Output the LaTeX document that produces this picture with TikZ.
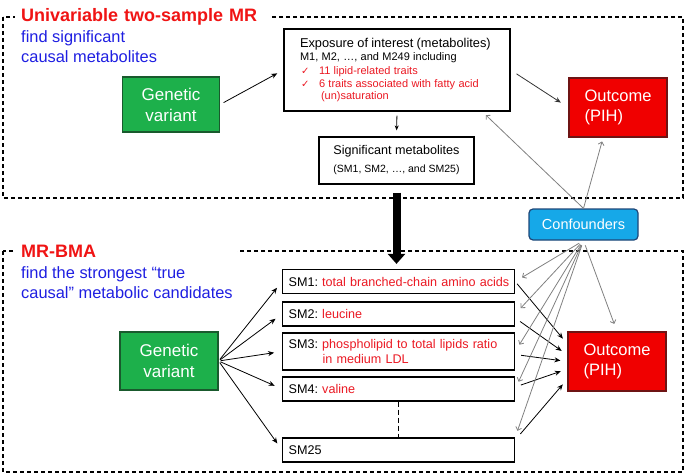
\documentclass[tikz,border=0pt]{standalone}
\usepackage{fontspec}
\setmainfont{Liberation Sans}
\newfontfamily\checkfont{DejaVu Sans}
\usetikzlibrary{arrows.meta,calc}
\definecolor{gvgreen}{RGB}{29,176,75}
\definecolor{gvborder}{RGB}{25,90,45}
\definecolor{pihred}{RGB}{240,0,0}
\definecolor{pihborder}{RGB}{110,20,20}
\definecolor{cfblue}{RGB}{22,168,232}
\definecolor{cfborder}{RGB}{30,70,120}
\definecolor{titlered}{RGB}{240,20,20}
\definecolor{txtred}{RGB}{235,25,35}
\definecolor{txtblue}{RGB}{30,30,225}
\newcommand{\fsz}[2]{\fontsize{#1}{#2}\selectfont}
\newcommand{\tick}{\makebox[19pt][l]{\hspace*{1pt}{\checkfont\fsz{10}{10}✓}}}

\begin{document}
\frenchspacing
\begin{tikzpicture}[x=1pt,y=-1pt,
  panel/.style={line width=1.3pt,dash pattern=on 4pt off 3pt},
  head/.style={fill=white,anchor=west,inner xsep=6pt,align=left,text=titlered,font=\fsz{18}{21}\bfseries},
  note/.style={anchor=west,inner xsep=6pt,align=left,text=txtblue,font=\fsz{16.4}{20}},
  wbox/.style={draw,line width=1.2pt,fill=white},
  gvbox/.style={fill=gvgreen,draw=gvborder,line width=1.2pt,text=white,minimum width=97pt,minimum height=55pt,align=center,font=\fsz{17}{21}},
  pihbox/.style={fill=pihred,draw=pihborder,line width=1.2pt,text=white,minimum width=98pt,minimum height=59pt,align=left,font=\fsz{16.5}{20}},
  cfbox/.style={fill=cfblue,draw=cfborder,line width=1.2pt,rounded corners=4pt,text=white,minimum width=109pt,minimum height=31pt,font=\fsz{14.5}{17}},
  smbox/.style={wbox,anchor=west,minimum height=24pt,text width=220pt,inner xsep=6pt,align=left,font=\fsz{12.6}{15}},
  link/.style={line width=0.8pt,-{Stealth[length=6pt,width=5pt]}},
  conflink/.style={gray,line width=0.8pt,-{Straight Barb[length=3pt,width=6pt]}},
]
\useasboundingbox (0,0) rectangle (685,474);

% the two analysis panels
\draw[panel] (3,17) rectangle (683,198);
\draw[panel] (3,251) rectangle (683,472);
\node[head,text width=243pt] (uvtitle) at (15,17) {Univariable two-sample MR};
\node[note] (uvnote) at (15,47) {find significant\\causal metabolites};
\node[head,text width=210pt] (bmatitle) at (15,251) {MR-BMA};
\node[note,font=\fsz{16.4}{19.5}] (bmanote) at (15,282.5) {find the strongest “true\\causal” metabolic candidates};

% upper panel
\node[gvbox] (gvtop) at (171,104.5) {Genetic\\variant};
\node[wbox,minimum height=82pt,text width=194pt,inner xsep=16pt,align=left] (expo) at (397,70)
  {{\fsz{12.8}{13.3}Exposure of interest (metabolites)}\\
   \fsz{11}{13.3}M1, M2, …, and M249 including\\
   \textcolor{txtred}{\tick 11 lipid-related traits}\\
   \textcolor{txtred}{\tick 6 traits associated with fatty acid}\\
   \textcolor{txtred}{\hspace*{21pt}(un)saturation}};
\node[wbox,minimum width=155pt,minimum height=47pt,align=center] (sig) at (396.5,160.5)
  {\fsz{12.6}{15}Significant metabolites\\[6pt] \fsz{10.5}{13}(SM1, SM2, …, and SM25)};
\node[pihbox] (outtop) at (618,107.5) {Outcome\\(PIH)};
\node[cfbox] (conf) at (583.5,224.5) {Confounders};

\draw[link] (gvtop.east) -- (expo.west) [shorten <=4pt,shorten >=7pt];
\draw[link,draw=black!80] (expo.east) -- (outtop.west) [shorten <=7pt,shorten >=9pt];
\draw[link,-{Stealth[length=5pt,width=4pt]}] (expo.south) -- (sig.north) [shorten <=4pt,shorten >=6pt];
\draw[conflink] (conf.north) -- ($(expo.south)!0.75!(expo.south east)$) [shorten >=5pt];
\draw[conflink] (conf.north) -- ($(outtop.south)!0.3!(outtop.south west)$) [shorten >=4pt];

% lower panel
\node[smbox] (sm1) at (282,281.5) {\mbox{SM1: \textcolor{txtred}{total branched-chain amino acids}}};
\node[smbox] (sm2) at (282,314) {SM2: \textcolor{txtred}{leucine}};
\node[smbox,minimum height=37pt] (sm3) at (282,351.5)
  {SM3: \textcolor{txtred}{phospholipid to total lipids ratio}\\
   \hspace*{34pt}\textcolor{txtred}{in medium LDL}};
\node[smbox] (sm4) at (282,389) {SM4: \textcolor{txtred}{valine}};
\node[smbox] (sm25) at (282,450) {SM25};
\draw[line width=1.2pt,dash pattern=on 5pt off 3pt] (sm4.south) -- (sm25.north);

\draw[line width=8pt,-{Triangle[width=17pt,length=10pt]}] (sig.south) -- (sig.south |- sm1.north) [shorten <=8pt,shorten >=5pt];

\node[gvbox,minimum width=98pt,minimum height=58pt] (gvbot) at (169,361) {Genetic\\variant};
\node[pihbox] (outbot) at (617,361.5) {Outcome\\(PIH)};

\foreach \sm in {sm1,sm2,sm3,sm4,sm25}
  \draw[link] (gvbot.east) -- (\sm.west) [shorten <=2pt,shorten >=8pt];

\draw[link] (sm1.east) -- ([yshift=17.5pt]outbot.west) [shorten <=3pt,shorten >=7pt];
\draw[link] ([yshift=-4pt]sm2.east) -- ([yshift=6.5pt]outbot.west) [shorten <=6pt,shorten >=7pt];
\draw[link] ([yshift=-3pt]sm3.east) -- (outbot.west) [shorten <=6pt,shorten >=7pt];
\draw[link] ([yshift=2pt]sm4.east) -- ([yshift=-7.5pt]outbot.west) [shorten <=6pt,shorten >=7pt];
\draw[link] ([yshift=10pt]sm25.east) -- ([yshift=-17.5pt]outbot.west) [shorten <=8pt,shorten >=7pt];

\foreach \tgt in {sm1.east,sm2.east,sm3.east,sm4.east}
  \draw[conflink] (conf.south) -- (\tgt) [shorten <=5pt,shorten >=8pt];
\draw[conflink] (conf.south) -- (sm25.north east) [shorten <=5pt,shorten >=7pt];
\draw[conflink] (conf.south) -- (outbot.north) [shorten <=5pt,shorten >=8pt];
\end{tikzpicture}
\end{document}
